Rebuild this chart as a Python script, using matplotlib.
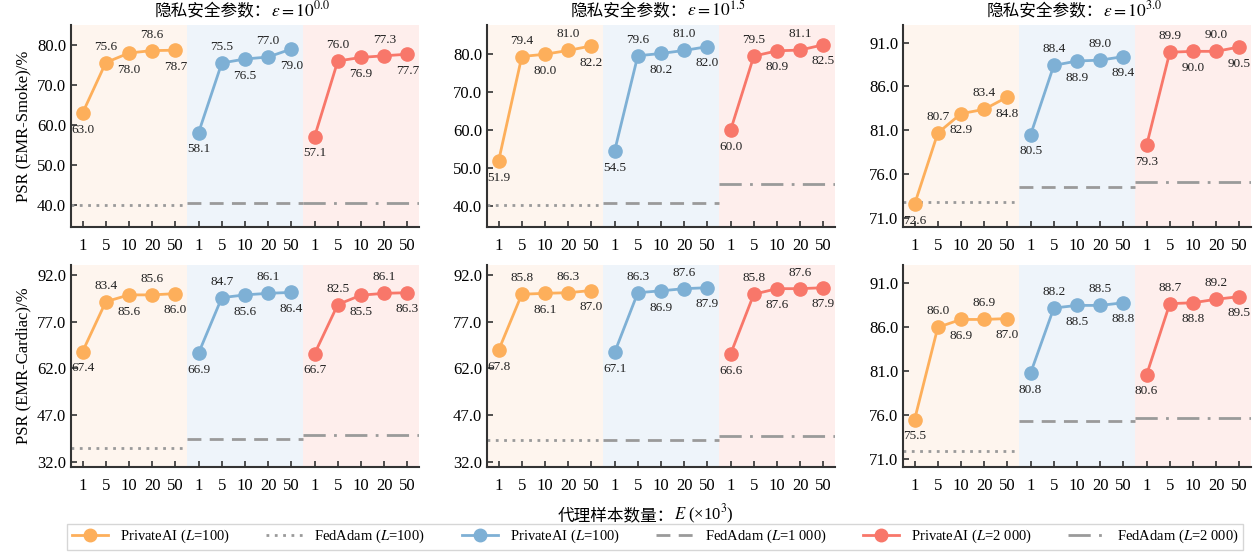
import numpy as np
import matplotlib
matplotlib.use('Agg')
import matplotlib.pyplot as plt
from matplotlib.lines import Line2D

plt.rcParams['font.family'] = ['Liberation Serif', 'Noto Sans CJK SC', 'DejaVu Sans']
plt.rcParams['mathtext.fontset'] = 'stix'

sizes = ['1', '5', '10', '20', '50']
eps_labels = ['0.0', '1.5', '3.0']
row_labels = ['PSR (EMR-Smoke)/%', 'PSR (EMR-Cardiac)/%']

# PrivateAI values: [row][col][group] -> 5 values (L=100, L=1000, L=2000)
smoke_e0 = [[63.0, 75.6, 78.0, 78.6, 78.7], [58.1, 75.5, 76.5, 77.0, 79.0], [57.1, 76.0, 76.9, 77.3, 77.7]]
smoke_e15 = [[51.9, 79.4, 80.0, 81.0, 82.2], [54.5, 79.6, 80.2, 81.0, 82.0], [60.0, 79.5, 80.9, 81.1, 82.5]]
smoke_e3 = [[72.6, 80.7, 82.9, 83.4, 84.8], [80.5, 88.4, 88.9, 89.0, 89.4], [79.3, 89.9, 90.0, 90.0, 90.5]]
cardiac_e0 = [[67.4, 83.4, 85.6, 85.6, 86.0], [66.9, 84.7, 85.6, 86.1, 86.4], [66.7, 82.5, 85.5, 86.1, 86.3]]
cardiac_e15 = [[67.8, 85.8, 86.1, 86.3, 87.0], [67.1, 86.3, 86.9, 87.6, 87.9], [66.6, 85.8, 87.6, 87.6, 87.9]]
cardiac_e3 = [[75.5, 86.0, 86.9, 86.9, 87.0], [80.8, 88.2, 88.5, 88.5, 88.8], [80.6, 88.7, 88.8, 89.2, 89.5]]
private = [[smoke_e0, smoke_e15, smoke_e3], [cardiac_e0, cardiac_e15, cardiac_e3]]

# FedAdam baselines (L=100, L=1000, L=2000)
fedadam = [[[40.0, 40.6, 40.6], [40.4, 40.9, 45.8], [72.9, 74.5, 75.1]],
           [[36.3, 39.3, 40.5], [39.0, 39.0, 40.3], [71.9, 75.3, 75.7]]]

yticks = [[[40, 50, 60, 70, 80], [40, 50, 60, 70, 80], [71, 76, 81, 86, 91]],
          [[32, 47, 62, 77, 92], [32, 47, 62, 77, 92], [71, 76, 81, 86, 91]]]
ylims = [[(34.5, 85), (34.5, 87.7), (70.0, 93.0)],
         [(30.3, 95.2), (30.3, 95.2), (70.1, 93.1)]]

colors = ['#FDAF5B', '#7EB0D5', '#F8776A']
bgs = ['#FEF5EE', '#EEF4FA', '#FEEEEC']
styles = [(0, (1, 2)), (0, (5, 3)), (0, (8, 3, 1, 3))]
gray = '#9A9A9A'

fig = plt.figure(figsize=(12.6, 5.6), dpi=100)
lefts = [71, 487, 903]
bottoms = [227, 467]
W, H = 348, 202

for r in range(2):
    for c in range(3):
        ax = fig.add_axes([lefts[c] / 1260, 1 - bottoms[r] / 560, W / 1260, H / 560])
        for g in range(3):
            x = np.arange(5) + 5 * g
            ax.axvspan(5 * g - 0.5, 5 * g + 4.5, color=bgs[g], lw=0, zorder=0)
            ax.plot([5 * g - 0.5, 5 * g + 4.5], [fedadam[r][c][g]] * 2, color=gray,
                    ls=styles[g], lw=2, zorder=2)
            vals = private[r][c][g]
            ax.plot(x, vals, color=colors[g], lw=2, marker='o', ms=9.5, zorder=3)
            for i, v in enumerate(vals):
                dy = -12 if i % 2 == 0 else 11.5
                ax.annotate(f'{v:.1f}', (x[i], v), xytext=(0, dy), textcoords='offset points',
                            ha='center', va='center', fontsize=9.5, color='#222222', zorder=4)
        ax.set_xlim(-0.5, 14.5)
        ax.set_ylim(*ylims[r][c])
        ax.set_xticks(np.arange(15))
        ax.set_xticklabels(sizes * 3, fontsize=12)
        ax.set_yticks(yticks[r][c])
        ax.set_yticklabels([f'{t:.1f}' for t in yticks[r][c]], fontsize=12)
        ax.tick_params(direction='in', length=4, width=1.2, color='#333333')
        ax.tick_params(axis='x', pad=8)
        for s in ['top', 'right']:
            ax.spines[s].set_visible(False)
        for s in ['left', 'bottom']:
            ax.spines[s].set_linewidth(1.5)
            ax.spines[s].set_color('#333333')
        if c == 0:
            ax.set_ylabel(row_labels[r], fontsize=12)
        if r == 0:
            # Chinese part and math part drawn separately so CJK glyphs render
            ax.text(0.575, 1.045, '隐私安全参数：', transform=ax.transAxes,
                    ha='right', va='baseline', fontsize=12, family='Noto Sans CJK SC')
            ax.text(0.575, 1.045, '$\\epsilon=10^{' + eps_labels[c] + '}$', transform=ax.transAxes,
                    ha='left', va='baseline', fontsize=12.5)

fig.text(0.535, 1 - 520 / 560, '代理样本数量：', ha='right', va='baseline',
         fontsize=12, family='Noto Sans CJK SC')
fig.text(0.535, 1 - 520 / 560, '$E$ (×10$^3$)', ha='left', va='baseline', fontsize=12)

handles = [
    Line2D([], [], color=colors[0], lw=2, marker='o', ms=9),
    Line2D([], [], color=gray, lw=2, ls=styles[0]),
    Line2D([], [], color=colors[1], lw=2, marker='o', ms=9),
    Line2D([], [], color=gray, lw=2, ls=styles[1]),
    Line2D([], [], color=colors[2], lw=2, marker='o', ms=9),
    Line2D([], [], color=gray, lw=2, ls=styles[2]),
]
labels = ['PrivateAI ($L$=100)', 'FedAdam ($L$=100)', 'PrivateAI ($L$=100)',
          'FedAdam ($L$=1 000)', 'PrivateAI ($L$=2 000)', 'FedAdam ($L$=2 000)']
leg = fig.legend(handles, labels, loc='lower left', ncol=6, mode='expand',
                 bbox_to_anchor=(60 / 1260, 3 / 560, 1190 / 1260, 26 / 560),
                 fontsize=10.5, frameon=True, fancybox=False, handlelength=2.5,
                 borderpad=0.3)
leg.get_frame().set_edgecolor('#CCCCCC')

fig.savefig('out.png', dpi=100)
